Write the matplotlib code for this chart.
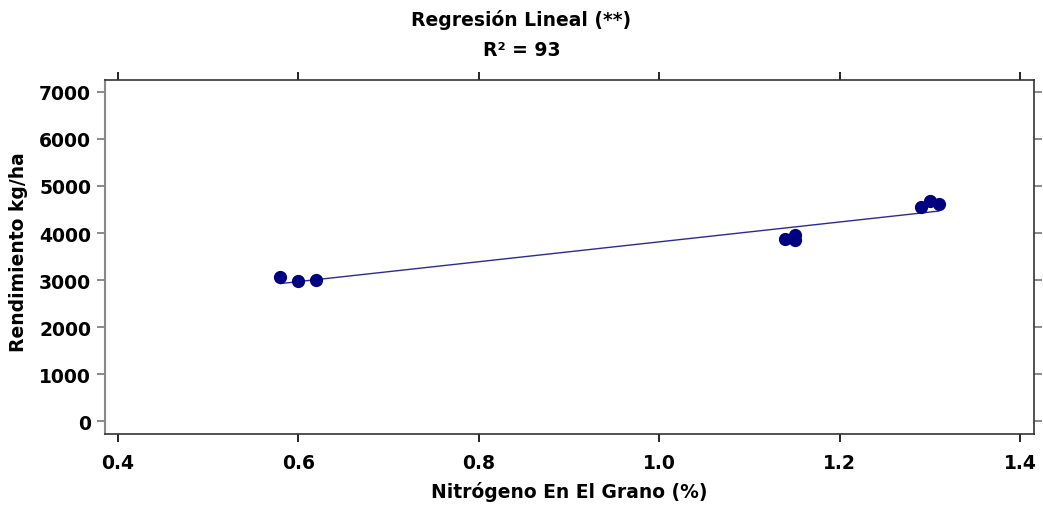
import numpy as np
import matplotlib
matplotlib.use("Agg")
import matplotlib.pyplot as plt

plt.rcParams['font.family'] = ['DejaVu Sans']

nitrogeno = [0.58, 0.60, 0.62, 1.14, 1.15, 1.15, 1.29, 1.30, 1.31]
rendimiento = [3070, 2980, 2990, 3880, 3960, 3860, 4560, 4690, 4610]
xticks = [0.4, 0.6, 0.8, 1.0, 1.2, 1.4]
yticks = [0, 1000, 2000, 3000, 4000, 5000, 6000, 7000]

fig = plt.figure(figsize=(10.43, 5.06), dpi=100)
ax = fig.add_axes([105/1043, 1 - 435/506, (1034-105)/1043, (435-81)/506])

slope, intercept = np.polyfit(nitrogeno, rendimiento, 1)
xl = np.array([min(nitrogeno), max(nitrogeno)])
ax.plot(xl, intercept + slope * xl, color='#2a2a9a', lw=1.0, zorder=2)
ax.plot(nitrogeno, rendimiento, 'o', color='#000080', ms=8.5, zorder=3)

ax.set_xlim(0.3856, 1.4155)
ax.set_ylim(-276, 7255)
ax.set_xticks(xticks)
ax.set_xticklabels([f"{v:.1f}" for v in xticks])
ax.set_yticks(yticks)
ax.set_yticklabels([str(v) for v in yticks])
ax.tick_params(axis='both', direction='out', length=6, width=1.2,
               labelsize=13.5, top=True, right=True, labeltop=False, labelright=False)
ax.tick_params(axis='y', colors='#777777', labelcolor='black')
for lbl in ax.get_xticklabels() + ax.get_yticklabels():
    lbl.set_fontweight('bold')
ax.tick_params(axis='x', pad=8)
ax.tick_params(axis='y', pad=4)
for side in ['top', 'bottom', 'right']:
    ax.spines[side].set_color('#333333')
    ax.spines[side].set_linewidth(1.2)
ax.spines['left'].set_color('#888888')
ax.spines['left'].set_linewidth(1.5)

ax.set_xlabel('Nitrógeno En El Grano (%)', fontsize=13.5, fontweight='bold', labelpad=6)
ax.set_ylabel('Rendimiento kg/ha', fontsize=13.5, fontweight='bold')
ax.yaxis.set_label_coords(-77/929, 0.517)
fig.text(0.5, 1 - 20/506, 'Regresión Lineal (**)', ha='center', va='center',
         fontsize=13.5, fontweight='bold')
fig.text(0.5, 1 - 50/506, 'R² = 93', ha='center', va='center',
         fontsize=13.5, fontweight='bold')

fig.savefig('out.png', dpi=100)
